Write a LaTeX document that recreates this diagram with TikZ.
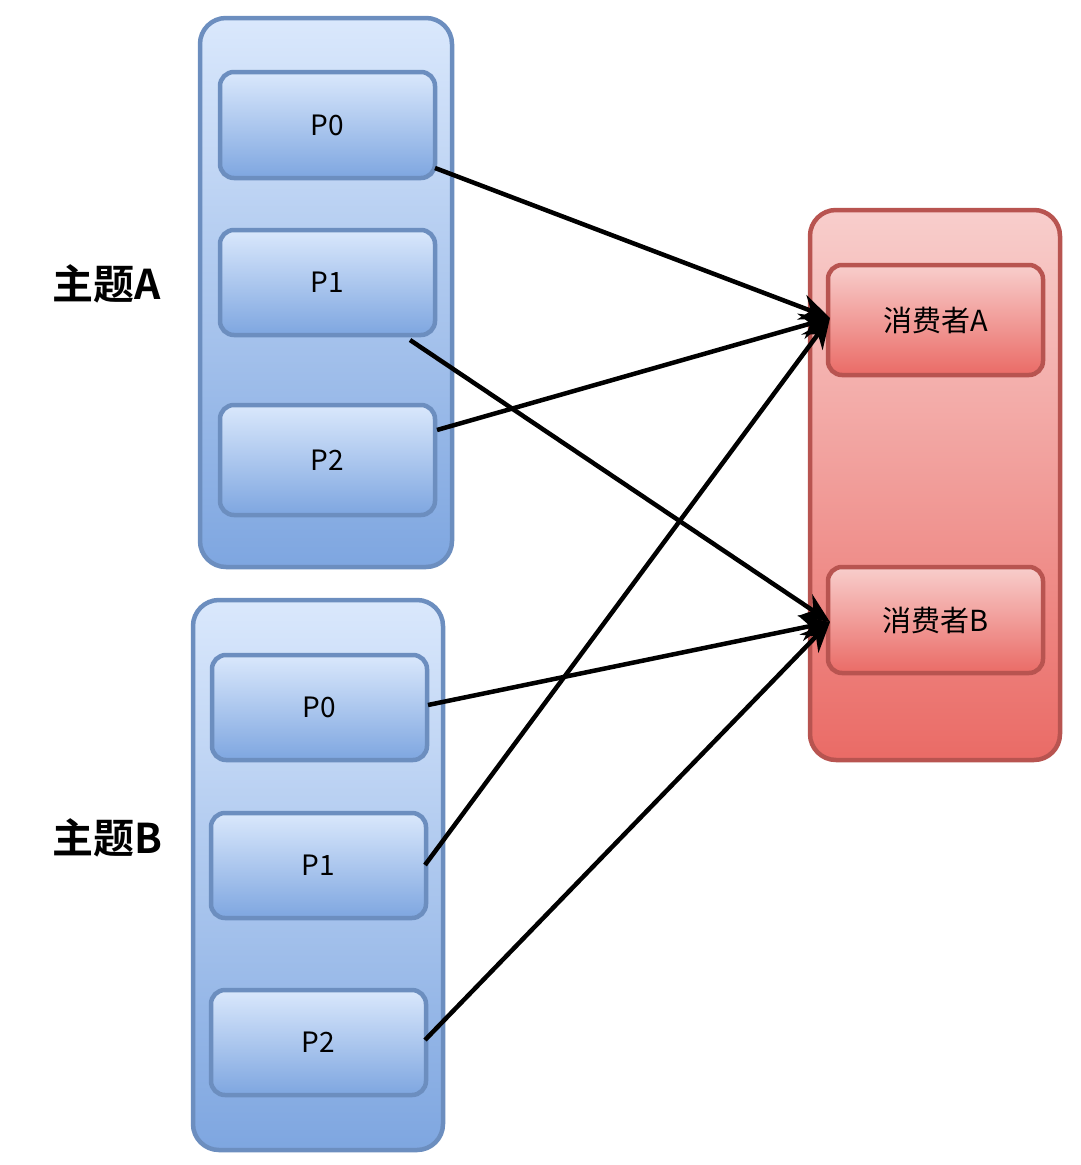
\documentclass[tikz,border=0pt]{standalone}
\usepackage{fontspec}
\setmainfont{Noto Sans CJK SC}
\newfontfamily\cjkbold{Noto Sans CJK SC Bold}
\usetikzlibrary{arrows.meta}
\definecolor{bfillT}{HTML}{DAE8FC}
\definecolor{bfillB}{HTML}{7EA6E0}
\definecolor{bline}{HTML}{6C8EBF}
\definecolor{rfillT}{HTML}{F8CECC}
\definecolor{rfillB}{HTML}{EA6B66}
\definecolor{rline}{HTML}{B85450}
\tikzset{
  outerb/.style={draw=bline, line width=4.5pt, rounded corners=26pt, top color=bfillT, bottom color=bfillB, inner sep=0pt},
  innerb/.style={draw=bline, line width=4.5pt, rounded corners=14pt, top color=bfillT, bottom color=bfillB, inner sep=0pt, font=\fontsize{28pt}{32pt}\selectfont, minimum width=215pt},
  outerr/.style={draw=rline, line width=4.5pt, rounded corners=26pt, top color=rfillT, bottom color=rfillB, inner sep=0pt},
  innerr/.style={draw=rline, line width=4.5pt, rounded corners=14pt, top color=rfillT, bottom color=rfillB, inner sep=0pt, font=\fontsize{29pt}{32pt}\selectfont, minimum width=215pt},
  topic/.style={font=\cjkbold\fontsize{41pt}{46pt}\selectfont, inner sep=0pt},
  conn/.style={line width=4.5pt, -{Stealth[length=30pt,width=26pt]}}
}
\begin{document}
\begin{tikzpicture}[x=1pt,y=-1pt]
\useasboundingbox (0,0) rectangle (1080,1165);
% Topic A
\node[outerb, minimum width=252pt, minimum height=549pt] (oa) at (326,292.5) {};
\node[innerb, minimum height=106pt] (ap0) at (327.5,125) {P0};
\node[innerb, minimum height=105pt] (ap1) at (327.5,282.5) {P1};
\node[innerb, minimum height=110pt] (ap2) at (327.5,460) {P2};
% Topic B
\node[outerb, minimum width=250pt, minimum height=550pt] (ob) at (318,875) {};
\node[innerb, minimum height=105pt] (bp0) at (319.5,707.5) {P0};
\node[innerb, minimum height=105pt] (bp1) at (318.5,865.5) {P1};
\node[innerb, minimum height=105pt] (bp2) at (318.5,1042.5) {P2};
% Consumers
\node[outerr, minimum width=250pt, minimum height=550pt] (oc) at (935,485) {};
\node[innerr, minimum height=110pt] (ca) at (935.5,320) {消费者A};
\node[innerr, minimum height=106pt] (cb) at (935.5,620) {消费者B};
% Labels
\node[topic] (la) at (107,284) {主题A};
\node[topic] (lb) at (107,838) {主题B};
% Connectors
\coordinate (ap0e) at (435,168);
\coordinate (ap1e) at (410,340);
\coordinate (ap2e) at (437,430);
\coordinate (bp0e) at (428,705);
\coordinate (bp1e) at (425,865);
\coordinate (bp2e) at (425,1040);
\coordinate (caw) at (830,318);
\coordinate (cbw) at (830,622);
\draw[conn] (ap0e) -- (caw);
\draw[conn] (ap1e) -- (cbw);
\draw[conn] (ap2e) -- (caw);
\draw[conn] (bp0e) -- (cbw);
\draw[conn] (bp1e) -- (caw);
\draw[conn] (bp2e) -- (cbw);
\end{tikzpicture}
\end{document}
